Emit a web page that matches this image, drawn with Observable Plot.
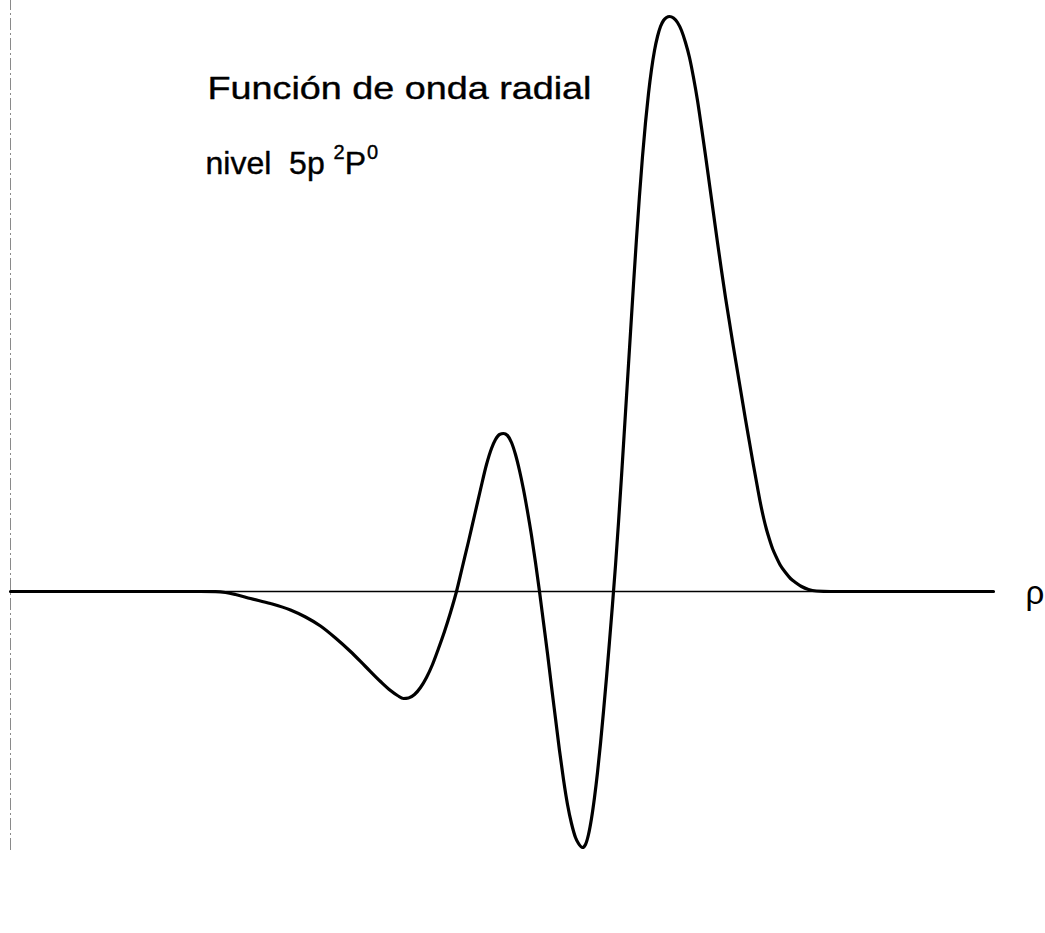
<!DOCTYPE html>
<html>
<head>
<meta charset="utf-8">
<script src="https://cdn.jsdelivr.net/npm/d3@7"></script>
<script src="https://cdn.jsdelivr.net/npm/@observablehq/plot@0.6"></script>
<style>
  body { margin: 0; background: #fff; }
  svg { display: block; }
</style>
</head>
<body>
<div id="chart"></div>
<script>
// Radial coordinate ρ (arbitrary units)
const rho = [
  0, 4.5, 7.5, 9.5, 10.25, 10.75, 11.25, 12, 13, 14, 14.75, 15.5, 16.25, 17, 17.75, 18.5, 19, 19.35, 19.65,
  19.9, 20.2, 20.5, 20.8, 21.1, 21.4, 21.7, 22, 22.3,
  22.6, 22.9, 23.2, 23.5, 23.8, 24.05, 24.25, 24.45, 24.65, 24.85, 25.05, 25.25, 25.45, 25.65,
  25.85, 26.05, 26.25, 26.45,
  26.65, 26.85, 27.05, 27.25, 27.45, 27.65, 27.85, 28.05, 28.25, 28.4, 28.6, 28.75, 28.9,
  29.05, 29.2, 29.35, 29.5, 29.65, 29.8, 29.95, 30.1,
  30.25, 30.4, 30.55, 30.7, 30.85, 31, 31.15, 31.3, 31.45, 31.6, 31.75, 31.9, 32.05, 32.2,
  32.35, 32.5, 32.65, 32.8, 32.95,
  33.15, 33.35, 33.55, 33.75, 33.95, 34.15, 34.35, 34.55, 34.75, 34.95, 35.15, 35.35, 35.55,
  35.75, 35.95, 36.15, 36.35, 36.55, 36.75, 36.95, 37.15, 37.35, 37.5, 37.65, 37.8, 37.95,
  38.1, 38.3, 38.5, 38.75, 39, 39.25, 39.55, 39.9, 40.3, 41, 44.5, 49.15];
// Radial wave function (arbitrary units)
const psi = [
  0, 0, 0, 0, -0.03, -0.2, -0.6, -1.4, -2.4, -3.7, -5.1, -6.9, -9.3, -12.0, -15.0, -18.0, -19.8, -20.8, -21.4,
  -21.3, -20.6, -19.2, -17.2, -14.6, -11.4, -8.0, -4.2, 0,
  5.0, 10.0, 15.2, 20.4, 25.4, 28.6, 30.4, 31.4, 31.6, 31.2, 29.8, 27.4, 24.2, 20.4,
  16.0, 11.2, 5.8, 0,
  -6.2, -12.4, -19.0, -25.4, -31.8, -37.6, -42.6, -46.4, -49.2, -50.4, -51.2, -50.6, -48.6,
  -45.4, -41.2, -36.2, -30.4, -24.0, -17.2, -10.0, -2.6,
  5.2, 13.8, 23.0, 32.6, 42.2, 51.8, 61.4, 70.6, 79.2, 87.0, 93.8, 99.6, 104.4, 108.2,
  111.0, 113.0, 114.2, 114.8, 115.0,
  114.7, 113.8, 112.2, 109.8, 106.8, 102.8, 98.2, 92.8, 87.2, 81.4, 75.6, 69.8, 64.2,
  58.8, 53.8, 48.8, 44.0, 39.2, 34.4, 29.8, 25.2, 20.8, 17.6, 14.8, 12.4, 10.4,
  8.6, 6.8, 5.2, 3.8, 2.6, 1.8, 1.0, 0.4, 0.1, 0, 0, 0];

const titleText = "Función de onda radial";
const levelParts = ["nivel  5p ", "2", "P", "0"];
const axisLabel = "ρ";
const xDomain = [0, 49.15];
const yDomain = [-68.4, 118.2];
const leftRuleSpan = [-51.8, 118.2];

const data = rho.map((r, i) => ({rho: r, psi: psi[i]}));

const chart = Plot.plot({
  width: 1045,
  height: 933,
  marginLeft: 10,
  marginRight: 52,
  marginTop: 0,
  marginBottom: 0,
  x: {domain: xDomain, axis: null},
  y: {domain: yDomain, axis: null},
  style: {background: "#fff", fontFamily: "'Liberation Sans', Arial, sans-serif", overflow: "visible"},
  marks: [
    Plot.ruleX([xDomain[0]], {y1: leftRuleSpan[0], y2: leftRuleSpan[1], stroke: "#8a8a8a", strokeWidth: 1, strokeDasharray: "12 3 2 3"}),
    Plot.ruleY([0], {x1: xDomain[0], x2: xDomain[1], stroke: "#000", strokeWidth: 1.6}),
    Plot.line(data, {x: "rho", y: "psi", curve: "monotone-x", stroke: "#000", strokeWidth: 3.2, strokeLinejoin: "round"}),
    Plot.text([axisLabel], {x: () => xDomain[1], y: () => 0, textAnchor: "start", dx: 32, dy: 2, fontSize: 33, fill: "#000"}),
    Plot.text([titleText], {frameAnchor: "top-left", textAnchor: "start", lineAnchor: "bottom", dx: 197, dy: 98, fontSize: 32, fill: "#000", stroke: "#000", strokeWidth: 0.4, className: "title-line"}),
    Plot.text([levelParts.join("")], {frameAnchor: "top-left", textAnchor: "start", lineAnchor: "bottom", dx: 195, dy: 173, fontSize: 32, fill: "#000", stroke: "#000", strokeWidth: 0.4, className: "level-line"})
  ]
});

document.getElementById("chart").appendChild(chart);

// widen the title to the width seen in the original
d3.select(chart).select(".title-line text")
  .attr("textLength", 384).attr("lengthAdjust", "spacingAndGlyphs");

// rebuild the level line with superscripts
const lvl = d3.select(chart).select(".level-line text");
lvl.text(null).style("white-space", "pre");
lvl.append("tspan").text(levelParts[0]);
lvl.append("tspan").attr("dy", -15).attr("font-size", 20).text(levelParts[1]);
lvl.append("tspan").attr("dy", 15).attr("dx", 0).text(levelParts[2]);
lvl.append("tspan").attr("dy", -15).attr("dx", 1).attr("font-size", 20).text(levelParts[3]);
</script>
</body>
</html>
